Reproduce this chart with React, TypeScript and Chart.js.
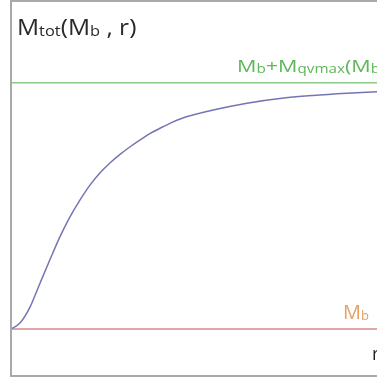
import React, { useEffect, useRef } from "react";
import { Chart, registerables } from "chart.js";

Chart.register(...registerables);

// r (horizontal position) and total mass values
const rValues = [0, 0.23, 0.49, 0.75, 1.0, 1.26, 1.52, 1.78, 2.04, 2.29, 2.55, 2.81, 3.07, 3.33, 3.58, 3.84, 4.1, 4.36, 5.21, 6.08, 6.93, 7.78, 8.66, 9.43, 10];
const mTotValues = [0, 0.024, 0.089, 0.187, 0.28, 0.374, 0.455, 0.524, 0.585, 0.633, 0.674, 0.709, 0.74, 0.768, 0.793, 0.815, 0.835, 0.853, 0.889, 0.917, 0.936, 0.948, 0.957, 0.963, 0.966];
const rRange = [0, 10];
const mbLevel = 0;
const maxLevel = 1;

type Seg = { t: string; sub?: boolean };
const titleSegs: Seg[] = [{ t: "M" }, { t: "tot", sub: true }, { t: "(M" }, { t: "b", sub: true }, { t: " , r)" }];
const maxSegs: Seg[] = [{ t: "M" }, { t: "b", sub: true }, { t: "+M" }, { t: "qvmax", sub: true }, { t: "(M" }, { t: "b", sub: true }, { t: ")" }];
const mbSegs: Seg[] = [{ t: "M" }, { t: "b", sub: true }];

const FONT = "'Open Sans', Lato, sans-serif";

function drawRich(ctx: CanvasRenderingContext2D, segs: Seg[], x: number, y: number, size: number, subSize: number, color: string, sx: number) {
  ctx.save();
  ctx.translate(x, y);
  ctx.scale(sx, 1);
  ctx.fillStyle = color;
  ctx.textBaseline = "alphabetic";
  ctx.textAlign = "left";
  let cx = 0;
  for (const s of segs) {
    ctx.font = `${s.sub ? subSize : size}px ${FONT}`;
    ctx.fillText(s.t, cx, s.sub ? 1 : 0);
    cx += ctx.measureText(s.t).width;
  }
  ctx.restore();
}

const decorPlugin = {
  id: "decor",
  afterDatasetsDraw(chart: any) {
    const { ctx, chartArea, scales } = chart;
    ctx.save();
    ctx.strokeStyle = "#a9a9a9";
    ctx.lineWidth = 2;
    ctx.strokeRect(chartArea.left, chartArea.top, chartArea.right - chartArea.left, chartArea.bottom - chartArea.top);
    ctx.restore();
    const yMax = scales.y.getPixelForValue(maxLevel);
    const yMb = scales.y.getPixelForValue(mbLevel);
    drawRich(ctx, titleSegs, 17, 35, 21, 14, "#2a2a2a", 1.17);
    drawRich(ctx, maxSegs, 237, yMax - 11, 17, 12, "#5fb65b", 1.27);
    drawRich(ctx, mbSegs, 343, yMb - 10, 20, 13, "#e5a066", 1.0);
    ctx.save();
    ctx.fillStyle = "#222";
    ctx.font = `18px ${FONT}`;
    ctx.fillText("r", 372, chartArea.bottom - 16);
    ctx.restore();
  },
};

export default function App() {
  const ref = useRef<HTMLCanvasElement>(null);
  useEffect(() => {
    if (!ref.current) return;
    const chart = new Chart(ref.current, {
      type: "line",
      data: {
        datasets: [
          {
            data: rValues.map((r, i) => ({ x: r, y: mTotValues[i] })),
            borderColor: "#7575b5",
            borderWidth: 1.5,
            pointRadius: 0,
            cubicInterpolationMode: "monotone",
          },
          {
            data: rRange.map((r) => ({ x: r, y: maxLevel })),
            borderColor: "#8cc98a",
            borderWidth: 1.5,
            pointRadius: 0,
          },
          {
            data: rRange.map((r) => ({ x: r, y: mbLevel })),
            borderColor: "#d68a8a",
            borderWidth: 1.5,
            pointRadius: 0,
          },
        ],
      },
      options: {
        animation: false,
        responsive: false,
        devicePixelRatio: 1,
        layout: { padding: { left: 11, top: 1, right: 1, bottom: 7 } },
        plugins: { legend: { display: false }, tooltip: { enabled: false }, title: { display: false } },
        scales: {
          x: { type: "linear", min: 0, max: 10, display: false },
          y: { type: "linear", min: -0.1908, max: 1.3318, display: false },
        },
      },
      plugins: [decorPlugin],
    });
    return () => chart.destroy();
  }, []);
  return (
    <div style={{ position: "fixed", left: 0, top: 0, width: 377, height: 383, overflow: "hidden", background: "#fff" }}>
      <canvas ref={ref} width={400} height={383} style={{ width: 400, height: 383, display: "block" }} />
    </div>
  );
}
